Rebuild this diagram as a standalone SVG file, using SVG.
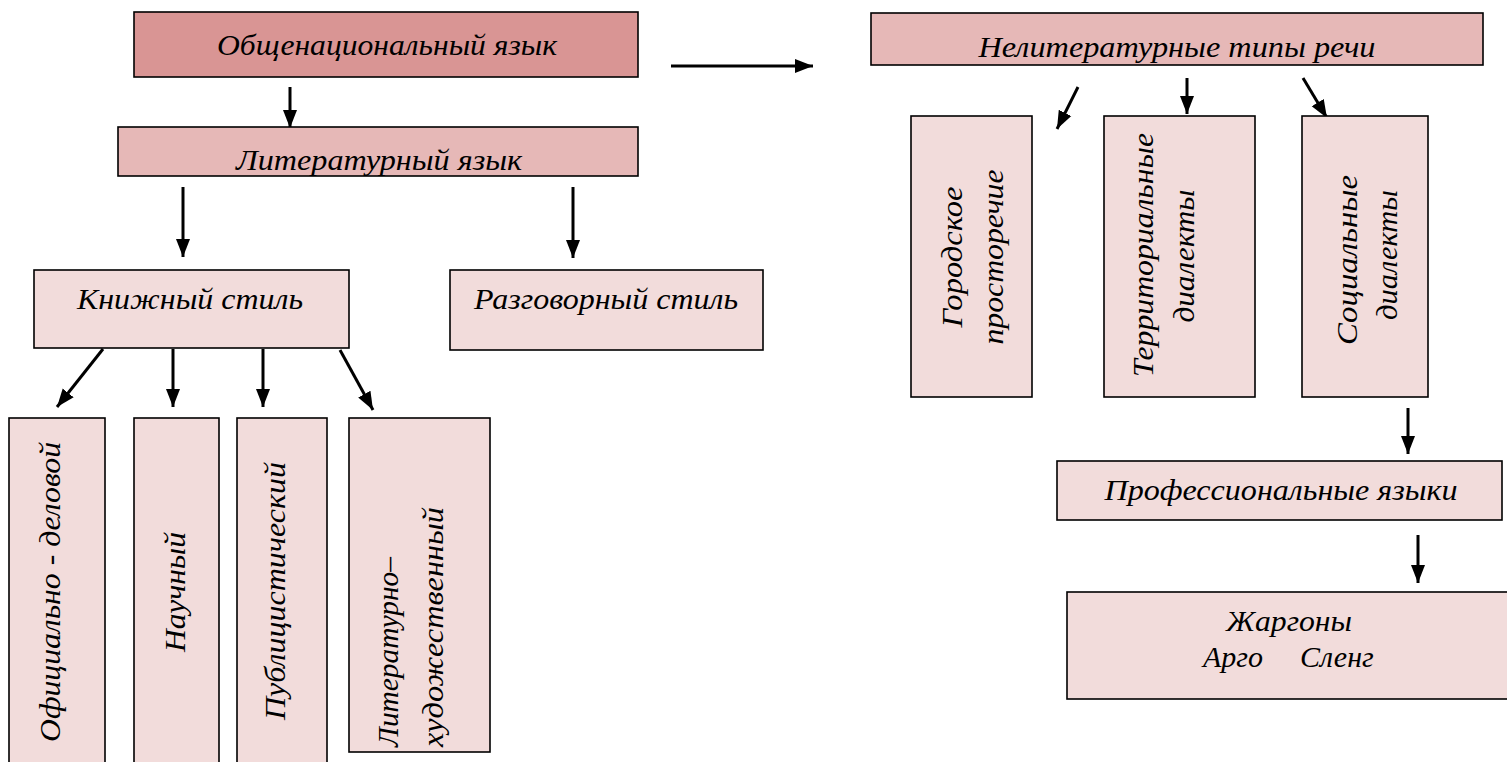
<svg xmlns="http://www.w3.org/2000/svg" width="1507" height="762" viewBox="0 0 1507 762">
<style>
.box{stroke:#000;stroke-width:1.6}
.c1{fill:#d99594}.c2{fill:#e6b8b7}.c3{fill:#f2dcdb}
.h{font-size:30px;text-anchor:middle}
.v{font-size:30px;text-anchor:middle}
.vs{font-size:30px;text-anchor:start}
.arr{stroke:#000;stroke-width:3;fill:none;marker-end:url(#ah)}
</style>
<defs>
<marker id="ah" markerUnits="userSpaceOnUse" markerWidth="18" markerHeight="18" viewBox="0 0 18 18" refX="18" refY="9" orient="auto">
<path d="M0,2 L18,9 L0,16 Z" fill="#000"/>
</marker>
<clipPath id="clipLit"><rect x="118" y="127" width="520" height="49"/></clipPath>
<clipPath id="clipNelit"><rect x="871" y="13" width="612" height="52"/></clipPath>
</defs>
<rect width="1507" height="762" fill="#fff"/>
<g id="connectors">
<line class="arr" x1="290" y1="87" x2="290" y2="128"/>
<line class="arr" x1="671" y1="66" x2="813" y2="66"/>
<line class="arr" x1="183" y1="187" x2="183" y2="257"/>
<line class="arr" x1="573" y1="187" x2="573" y2="258"/>
<line class="arr" x1="103" y1="349" x2="57" y2="407"/>
<line class="arr" x1="173" y1="349" x2="173" y2="407"/>
<line class="arr" x1="263" y1="349" x2="263" y2="407"/>
<line class="arr" x1="340" y1="350" x2="373" y2="410"/>
<line class="arr" x1="1078" y1="87" x2="1057" y2="129"/>
<line class="arr" x1="1187" y1="78" x2="1187" y2="114"/>
<line class="arr" x1="1303" y1="78" x2="1327" y2="118"/>
<line class="arr" x1="1408" y1="408" x2="1408" y2="454"/>
<line class="arr" x1="1418" y1="535" x2="1418" y2="583"/>
</g>
<g font-family="Liberation Serif, DejaVu Serif, serif" font-style="italic" fill="#000">
<g id="obshchenatsionalny">
<rect class="box c1" x="134" y="12" width="504" height="65"/>
<text class="h" x="387" y="55" textLength="340" lengthAdjust="spacingAndGlyphs">Общенациональный язык</text>
</g>
<g id="literaturny">
<rect class="box c2" x="118" y="127" width="520" height="49"/>
<text class="h" x="379" y="170" textLength="286" lengthAdjust="spacingAndGlyphs" clip-path="url(#clipLit)">Литературный язык</text>
</g>
<g id="neliteraturnye">
<rect class="box c2" x="871" y="13" width="612" height="52"/>
<text class="h" x="1177" y="57" textLength="397" lengthAdjust="spacingAndGlyphs" clip-path="url(#clipNelit)">Нелитературные типы речи</text>
</g>
<g id="knizhny">
<rect class="box c3" x="34" y="270" width="315" height="78"/>
<text class="h" x="190" y="309" textLength="226" lengthAdjust="spacingAndGlyphs">Книжный стиль</text>
</g>
<g id="razgovorny">
<rect class="box c3" x="450" y="270" width="313" height="80"/>
<text class="h" x="606" y="309" textLength="264" lengthAdjust="spacingAndGlyphs">Разговорный стиль</text>
</g>
<g id="ofitsialno">
<rect class="box c3" x="9" y="418" width="96" height="360"/>
<text class="v" transform="translate(60,592) rotate(-90)" textLength="300" lengthAdjust="spacingAndGlyphs">Официально - деловой</text>
</g>
<g id="nauchny">
<rect class="box c3" x="134" y="418" width="85" height="360"/>
<text class="v" transform="translate(185,592) rotate(-90)" textLength="120" lengthAdjust="spacingAndGlyphs">Научный</text>
</g>
<g id="publitsistichesky">
<rect class="box c3" x="237" y="418" width="90" height="360"/>
<text class="v" transform="translate(285,591) rotate(-90)" textLength="258" lengthAdjust="spacingAndGlyphs">Публицистический</text>
</g>
<g id="lit-khud">
<rect class="box c3" x="349" y="418" width="141" height="334"/>
<text class="vs" transform="translate(398,747) rotate(-90)" textLength="190" lengthAdjust="spacingAndGlyphs">Литературно–</text>
<text class="vs" transform="translate(443,747) rotate(-90)" textLength="240" lengthAdjust="spacingAndGlyphs">художественный</text>
</g>
<g id="gorodskoe">
<rect class="box c3" x="911" y="116" width="121" height="281"/>
<text class="v" transform="translate(962,257) rotate(-90)" textLength="141" lengthAdjust="spacingAndGlyphs">Городское</text>
<text class="v" transform="translate(1003,257) rotate(-90)" textLength="175" lengthAdjust="spacingAndGlyphs">просторечие</text>
</g>
<g id="territorialnye">
<rect class="box c3" x="1104" y="116" width="151" height="281"/>
<text class="v" transform="translate(1153,255) rotate(-90)" textLength="244" lengthAdjust="spacingAndGlyphs">Территориальные</text>
<text class="v" transform="translate(1194,256) rotate(-90)" textLength="133" lengthAdjust="spacingAndGlyphs">диалекты</text>
</g>
<g id="sotsialnye">
<rect class="box c3" x="1302" y="116" width="126" height="281"/>
<text class="v" transform="translate(1357,260) rotate(-90)" textLength="170" lengthAdjust="spacingAndGlyphs">Социальные</text>
<text class="v" transform="translate(1397,255) rotate(-90)" textLength="130" lengthAdjust="spacingAndGlyphs">диалекты</text>
</g>
<g id="professionalnye">
<rect class="box c3" x="1057" y="461" width="445" height="59"/>
<text class="h" x="1281" y="500" textLength="353" lengthAdjust="spacingAndGlyphs">Профессиональные языки</text>
</g>
<g id="zhargony">
<rect class="box c3" x="1067" y="592" width="450" height="107"/>
<text class="h" x="1289" y="631" textLength="126" lengthAdjust="spacingAndGlyphs">Жаргоны</text>
<text font-size="30"><tspan x="1203" y="667">Арго</tspan><tspan x="1300" y="667">Сленг</tspan></text>
</g>
</g>
</svg>
